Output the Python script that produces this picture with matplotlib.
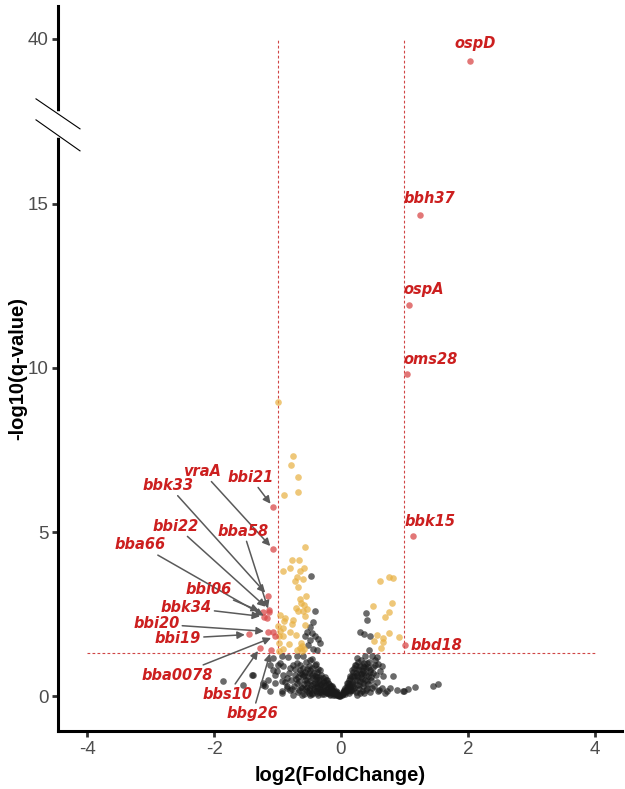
import numpy as np
import matplotlib
matplotlib.use('Agg')
import matplotlib.pyplot as plt
from matplotlib.lines import Line2D

# Datos: puntos no significativos (log2FC, -log10 q)
ns_points = [
    (-1.39, 0.64), (-1.20, 0.30), (-1.23, 0.33), (-1.04, 0.39), (-1.07, 0.79), (-1.12, 0.94),
    (-1.15, 0.48), (-0.93, 1.21), (-0.83, 1.18), (-0.69, 1.21), (-0.60, 1.21), (-0.99, 0.94),
    (-0.91, 0.91), (-0.80, 0.85), (-1.04, 0.64), (-0.91, 0.64), (-0.93, 0.45), (-0.93, 0.15),
    (-0.80, 0.18), (-0.85, 0.30), (-0.69, 0.39), (-0.54, 0.15), (-0.38, 0.09), (-0.72, 0.64),
    (-0.65, 0.79), (-0.49, 1.09), (-0.41, 0.94), (-0.33, 0.79), (-0.22, 0.48), (-0.14, 0.30),
    (-0.60, 0.61), (-0.46, 0.64), (-0.54, 0.39), (-0.38, 0.39), (-0.30, 0.18), (-0.13, 0.09),
    (-0.20, 0.09), (-0.76, 0.03), (-0.49, 0.03), (-0.61, 0.24), (-1.86, 0.45), (-1.54, 0.33),
    (-1.23, 0.39), (-1.40, 0.64), (-1.07, 1.15), (-0.96, 1.00), (-1.01, 0.76), (-0.85, 0.24),
    (-0.93, 0.09), (-1.12, 0.15),
    (-0.85, 0.55), (-0.82, 0.70), (-0.78, 0.48), (-0.75, 0.95), (-0.74, 0.30), (-0.71, 0.52),
    (-0.70, 1.02), (-0.68, 0.12), (-0.66, 0.45), (-0.64, 0.95), (-0.63, 0.28), (-0.62, 0.68),
    (-0.60, 0.86), (-0.58, 0.08), (-0.57, 0.50), (-0.56, 0.75), (-0.55, 1.05), (-0.53, 0.28),
    (-0.52, 0.62), (-0.51, 0.92), (-0.50, 0.18), (-0.49, 0.45), (-0.48, 0.80), (-0.47, 0.35),
    (-0.46, 1.12), (-0.45, 0.10), (-0.44, 0.55), (-0.43, 0.25), (-0.42, 0.70), (-0.41, 0.40),
    (-0.40, 0.15), (-0.39, 0.98), (-0.38, 0.58), (-0.37, 0.30), (-0.36, 0.82), (-0.35, 0.12),
    (-0.34, 0.48), (-0.33, 0.22), (-0.32, 0.65), (-0.31, 0.36), (-0.30, 0.08), (-0.29, 0.55),
    (-0.28, 0.28), (-0.27, 0.42), (-0.26, 0.15), (-0.25, 0.58), (-0.24, 0.33), (-0.23, 0.20),
    (-0.22, 0.10), (-0.21, 0.40), (-0.20, 0.26), (-0.19, 0.16), (-0.18, 0.32), (-0.17, 0.08),
    (-0.16, 0.22), (-0.15, 0.14), (-0.14, 0.20), (-0.13, 0.05), (-0.12, 0.16), (-0.11, 0.10),
    (-0.10, 0.13), (-0.09, 0.06), (-0.08, 0.10), (-0.07, 0.04), (-0.06, 0.07), (-0.05, 0.03),
    (-0.04, 0.05), (-0.03, 0.02), (-0.02, 0.03), (-0.01, 0.01),
    (-0.66, 0.18), (-0.62, 0.05), (-0.59, 0.36), (-0.56, 0.22), (-0.53, 0.48), (-0.51, 0.10),
    (-0.48, 0.26), (-0.46, 0.06), (-0.44, 0.38), (-0.42, 0.18), (-0.40, 0.52), (-0.38, 0.24),
    (-0.36, 0.05), (-0.35, 0.40), (-0.33, 0.30), (-0.31, 0.14), (-0.29, 0.46), (-0.27, 0.06),
    (-0.26, 0.35), (-0.24, 0.12), (-0.23, 0.50), (-0.21, 0.22), (-0.19, 0.38), (-0.18, 0.04),
    (-0.16, 0.30), (-0.14, 0.12), (-0.12, 0.24), (-0.10, 0.04), (-0.08, 0.16), (-0.06, 0.12),
    (-0.72, 0.82), (-0.68, 0.58), (-0.64, 0.72), (-0.58, 0.66), (-0.54, 0.82), (-0.50, 0.70),
    (-0.45, 0.86), (-0.41, 0.62), (-0.37, 0.74), (-0.34, 0.60), (-0.88, 0.42), (-0.77, 0.22),
    (0.02, 0.05), (0.03, 0.10), (0.04, 0.08), (0.05, 0.18), (0.06, 0.12), (0.07, 0.25),
    (0.08, 0.15), (0.09, 0.32), (0.10, 0.20), (0.11, 0.40), (0.12, 0.10), (0.13, 0.48),
    (0.14, 0.28), (0.15, 0.55), (0.16, 0.18), (0.17, 0.62), (0.18, 0.38), (0.19, 0.75),
    (0.20, 0.25), (0.21, 0.85), (0.22, 0.50), (0.23, 0.12), (0.24, 0.95), (0.25, 0.35),
    (0.26, 0.65), (0.27, 1.05), (0.28, 0.22), (0.29, 0.80), (0.30, 0.45), (0.31, 1.10),
    (0.32, 0.60), (0.33, 0.15), (0.34, 0.92), (0.35, 0.30), (0.36, 1.00), (0.37, 0.72),
    (0.38, 0.50), (0.39, 0.20), (0.40, 0.85), (0.42, 0.62), (0.43, 0.38), (0.44, 1.05),
    (0.45, 0.12), (0.46, 0.75), (0.48, 0.50), (0.50, 0.88), (0.52, 0.30), (0.53, 1.10),
    (0.55, 0.65), (0.57, 0.42), (0.58, 0.98), (0.60, 0.20), (0.62, 0.78),
    (0.04, 0.14), (0.07, 0.06), (0.09, 0.22), (0.11, 0.28), (0.13, 0.20), (0.15, 0.38),
    (0.17, 0.44), (0.19, 0.30), (0.21, 0.62), (0.23, 0.70), (0.25, 0.48), (0.27, 0.82),
    (0.29, 0.35), (0.31, 0.68), (0.33, 0.52), (0.35, 0.78), (0.37, 0.88), (0.39, 0.64),
    (0.41, 0.46), (0.43, 0.90), (0.47, 0.60), (0.51, 0.72), (0.26, 0.05), (0.36, 0.10),
    (0.25, 1.15), (0.38, 1.21), (0.49, 1.21), (0.57, 1.18), (0.22, 0.94), (0.30, 0.91),
    (0.41, 1.00), (0.54, 0.94), (0.65, 0.91), (0.66, 0.61), (0.82, 0.61), (0.17, 0.79),
    (0.14, 0.61), (0.09, 0.39), (0.25, 0.61), (0.33, 0.70), (0.46, 0.79), (0.35, 0.39),
    (0.41, 0.24), (0.49, 0.24), (0.58, 0.15), (0.72, 0.15), (0.88, 0.18), (0.98, 0.15),
    (1.06, 0.21), (1.17, 0.27), (1.45, 0.30), (1.53, 0.36), (0.19, 0.18), (0.30, 0.09),
    (0.05, 0.16), (0.14, 0.15), (0.65, 0.24), (0.77, 0.24), (1.00, 0.17), (0.70, 0.10),
    (-0.47, 3.67), (-0.41, 2.58), (-0.44, 2.27), (-0.49, 2.12), (-0.54, 1.97), (-0.46, 1.91),
    (-0.57, 1.82), (-0.41, 1.82), (-0.49, 1.70), (-0.36, 1.73), (-0.52, 1.55), (-0.44, 1.45),
    (-0.33, 1.61), (-0.38, 1.40), (0.39, 2.52), (0.41, 2.33), (0.30, 1.97), (0.36, 1.88),
    (0.46, 1.82), (0.44, 1.40),
]

# Puntos significativos con |log2FC| < 1
sig_points = [
    (-0.99, 8.97), (-0.76, 7.33), (-0.79, 7.03), (-0.68, 6.67), (-0.68, 6.21), (-0.90, 6.12),
    (-0.57, 4.55), (-0.77, 4.15), (-0.66, 4.15), (-0.91, 3.82), (-0.80, 3.91), (-0.65, 3.82),
    (-0.58, 3.91), (-0.69, 3.64), (-0.72, 3.52), (-0.68, 3.33), (-0.65, 2.97), (-0.63, 2.85),
    (-0.58, 2.79), (-0.71, 2.70), (-0.68, 2.58), (-0.60, 2.58), (-0.57, 2.45), (-0.96, 2.48),
    (-0.88, 2.39), (-0.90, 2.30), (-0.76, 2.33), (-0.99, 2.15), (-0.91, 2.09), (-0.77, 2.21),
    (-0.57, 2.18), (-0.96, 2.00), (-0.80, 1.97), (-0.97, 1.82), (-0.91, 1.82), (-0.71, 1.85),
    (-0.98, 1.61), (-0.82, 1.58), (-0.63, 1.61), (-0.61, 1.52), (-0.91, 1.45), (-0.98, 1.39),
    (-0.69, 1.42), (-0.58, 1.45), (-0.54, 2.67), (-0.55, 3.06), (-0.60, 3.58), (-0.64, 1.48),
    (-0.62, 1.38),
    (0.61, 3.52), (0.76, 3.64), (0.82, 3.61), (0.50, 2.76), (0.80, 2.85), (0.76, 2.55),
    (0.69, 2.42), (0.57, 1.85), (0.66, 1.76), (0.76, 1.94), (0.91, 1.79), (0.52, 1.67),
    (0.66, 1.64), (0.63, 1.48),
]

# Genes destacados: nombre, log2FC, -log10 q, posicion del texto
gene_names = ['ospD', 'bbh37', 'ospA', 'oms28', 'bbk15', 'bbd18',
              'bbi21', 'vraA', 'bbk33', 'bbi22', 'bba58', 'bba66', 'bbi06',
              'bbk34', 'bbi20', 'bbi19', 'bba0078', 'bbs10', 'bbg26']
gene_lfc = [2.03, 1.24, 1.07, 1.04, 1.13, 1.01,
            -1.07, -1.07, -1.15, -1.14, -1.13, -1.16, -1.23,
            -1.21, -1.15, -1.45, -1.04, -1.27, -1.10]
gene_logq = [39.34, 14.67, 11.91, 9.82, 4.88, 1.55,
             5.76, 4.48, 3.06, 2.64, 2.55, 2.39, 2.55,
             2.42, 1.97, 1.88, 1.82, 1.48, 1.42]
label_x = [2.11, 1.40, 1.31, 1.42, 1.40, 1.51,
           -1.43, -2.19, -2.72, -2.60, -1.54, -3.17, -2.08,
           -2.44, -2.91, -2.57, -2.58, -1.78, -1.39]
label_y = [39.85, 15.15, 12.39, 10.24, 5.33, 1.55,
           6.67, 6.85, 6.42, 5.18, 5.03, 4.61, 3.24,
           2.70, 2.20, 1.76, 0.64, 0.06, -0.52]
with_arrow = [False] * 6 + [True] * 13
extra_red = [(-1.07, 1.97)]

# Corte del eje y
lo, hi, eps = 17.4, 37.4, 0.001
gap = hi - lo


def fwd(y):
    y = np.asarray(y, dtype=float)
    return np.where(y <= lo, y, np.where(y >= hi, lo + gap * eps + (y - hi), lo + (y - lo) * eps))


def inv(t):
    t = np.asarray(t, dtype=float)
    return np.where(t <= lo, t, np.where(t >= lo + gap * eps, t - lo - gap * eps + hi, lo + (t - lo) / eps))


fig = plt.figure(figsize=(6.25, 7.89), dpi=100)
ax = fig.add_axes([0.0928, 0.0735, 0.9024, 0.9189])
ax.set_yscale('function', functions=(fwd, inv))

ns_x = [p[0] for p in ns_points]
ns_y = [p[1] for p in ns_points]
sg_x = [p[0] for p in sig_points]
sg_y = [p[1] for p in sig_points]

ax.scatter(ns_x, ns_y, s=23, color='#1a1a1a', alpha=0.65, linewidths=0, zorder=3)
ax.scatter(sg_x, sg_y, s=23, color='#E8B040', alpha=0.7, linewidths=0, zorder=3)
ax.scatter(gene_lfc + [p[0] for p in extra_red], gene_logq + [p[1] for p in extra_red],
           s=22, color='#D94A4A', alpha=0.75, linewidths=0, zorder=4)

# Lineas de corte
thr = -np.log10(0.05)
dash = dict(ls=(0, (2.5, 2)), color='#D04545', lw=0.8, zorder=2)
ax.plot([-4, 4], [thr, thr], **dash)
ax.plot([-1, -1], [thr, 40], **dash)
ax.plot([1, 1], [thr, 40], **dash)

for name, gx, gy, tx, ty, arr in zip(gene_names, gene_lfc, gene_logq, label_x, label_y, with_arrow):
    if arr:
        ax.annotate(name, xy=(gx, gy), xytext=(tx, ty), ha='center', va='center',
                    fontsize=10.5, fontweight='bold', fontstyle='italic', color='#CC1F1F',
                    arrowprops=dict(arrowstyle='-|>', color='#5a5a5a', lw=1.1,
                                    shrinkA=0, shrinkB=3, mutation_scale=11), zorder=5)
    else:
        ax.text(tx, ty, name, ha='center', va='center', fontsize=10.5, fontweight='bold',
                fontstyle='italic', color='#CC1F1F', zorder=5)

ax.set_xlim(-4.46, 4.43)
ax.set_ylim(-1.06, 41.0)
ax.set_xticks([-4, -2, 0, 2, 4])
ax.set_yticks([0, 5, 10, 15, 40])
ax.set_xticklabels(['-4', '-2', '0', '2', '4'], fontfamily='Liberation Sans', fontsize=13.5, color='#4D4D4D')
ax.set_yticklabels(['0', '5', '10', '15', '40'], fontfamily='Liberation Sans', fontsize=13.5, color='#4D4D4D')
ax.tick_params(length=4, width=2, color='#333333', pad=3)

for s in ['top', 'right']:
    ax.spines[s].set_visible(False)
for s in ['left', 'bottom']:
    ax.spines[s].set_linewidth(2.2)
    ax.spines[s].set_color('black')

ax.set_xlabel('log2(FoldChange)', fontfamily='Liberation Sans', fontweight='bold', fontsize=14.5, labelpad=6)
ax.set_ylabel('-log10(q-value)', fontfamily='Liberation Sans', fontweight='bold', fontsize=14.5, labelpad=0)

# Marcas del corte
W, H = fig.get_size_inches() * fig.dpi
xp = ax.transAxes.transform((0, 0))[0]
yp = ax.transData.transform((0, lo))[1]


def fig_line(xs, ys, **kw):
    fig.add_artist(Line2D([v / W for v in xs], [v / H for v in ys], transform=fig.transFigure, **kw))


fig_line([xp, xp], [yp - 10.5, yp + 10.5], color='white', lw=4, zorder=10)
fig_line([xp - 22, xp + 22], [yp + 26, yp - 4], color='black', lw=0.8, zorder=11)
fig_line([xp - 22, xp + 22], [yp + 5, yp - 26], color='black', lw=0.8, zorder=11)

plt.savefig('out.png', dpi=100)
